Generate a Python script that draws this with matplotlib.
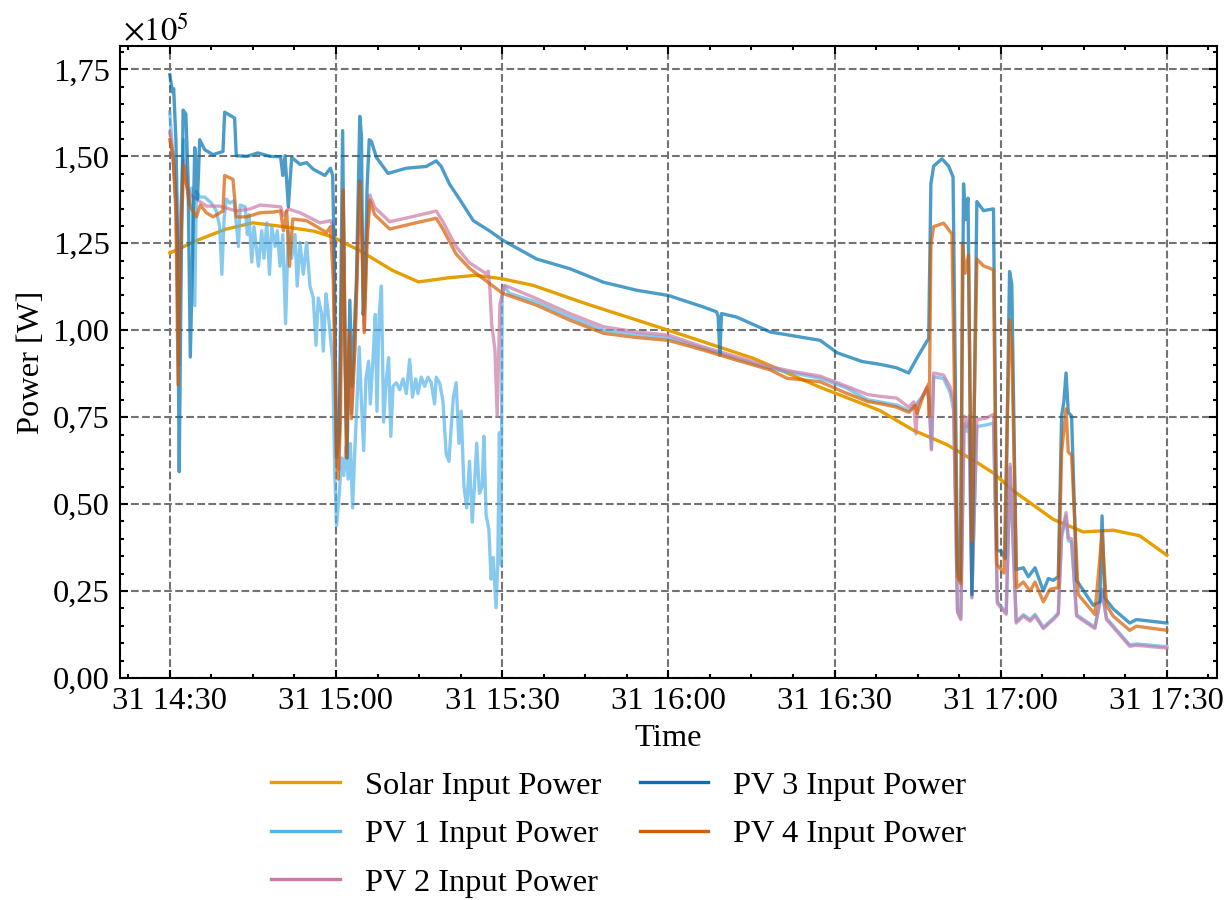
from datetime import datetime, timedelta

import matplotlib
matplotlib.use("Agg")
import matplotlib.pyplot as plt
import matplotlib.dates as mdates
from matplotlib.ticker import AutoMinorLocator, FuncFormatter

# minutes after 14:30 on the 31st, power in kW
solar_t = [0, 5, 10, 15, 21, 26, 29.4, 34.2, 40.2, 44.9, 50.4, 55.2, 60, 65.6, 75.2,
           90, 105.4, 117.4, 128.2, 134.3, 140.3, 145.7, 148.7, 152.3, 159.5, 164.9,
           170.3, 175.1, 180]
solar_kw = [122.2, 125.9, 129.0, 130.9, 129.7, 128.5, 126.8, 123.0, 117.2, 113.9, 115.1,
            115.8, 114.8, 112.9, 107.6, 100.0, 91.9, 83.6, 76.9, 71.2, 67.1, 62.0, 58.9,
            53.8, 45.6, 42.0, 42.5, 40.9, 35.3]

pv1_t = [0, 0.6, 1.1, 1.6, 2.0, 2.5, 3.0, 3.5, 3.9, 4.5, 4.8, 5.4, 6.3, 7.5, 8.4, 9.0,
         9.4, 9.8, 10.2, 10.8, 11.6, 12.4, 12.7, 13.6, 14.0, 14.3, 14.8, 15.2, 16.0, 16.6,
         17.0, 17.5, 18.0, 18.4, 19.0, 19.4, 19.9, 20.4, 20.9, 21.4, 22.0, 22.6, 23.0,
         23.5, 24.1, 24.7, 25.3, 25.9, 26.4, 26.8, 27.4, 27.7, 28.2, 28.6, 29.0, 29.4,
         29.8, 30.1, 30.6, 31.0, 31.4, 31.8, 32.2, 32.6, 33.0, 33.4, 33.8, 34.2, 34.6,
         35.0, 35.4, 35.9, 36.2, 36.7, 37.1, 37.4, 37.8, 38.2, 38.6, 39.1, 39.5, 39.9,
         40.3, 40.9, 41.5, 42.1, 42.7, 43.3, 43.8, 44.4, 44.8, 45.4, 46.0, 46.6, 47.2,
         47.8, 48.1, 48.7, 49.3, 49.9, 50.4, 50.9, 51.2, 51.7, 52.2, 52.6, 53.1, 53.6,
         54.1, 54.6, 55.0, 55.4, 55.9, 56.4, 56.7, 57.1, 57.6, 58.0, 58.4, 58.9, 59.2,
         59.5, 59.8, 60.0, 60.4, 61.3, 66.2, 72.2, 78.3, 84.3, 90.0, 96.3, 102.3, 108.4,
         117.4, 122.0, 126.0, 128.2, 131.2, 133.4, 134.6, 136.7, 137.1, 137.5, 137.9,
         139.7, 140.9, 141.5, 142.2, 142.8, 143.4, 143.9, 144.3, 144.8, 145.7, 147.5,
         148.7, 149.4, 151.0, 151.7, 152.8, 154.1, 155.3, 156.2, 157.7, 159.5, 160.4,
         161.0, 161.8, 162.2, 162.8, 163.7, 167.0, 168.3, 169.1, 173.3, 174.5, 180.0]
pv1_kw = [162.7, 149.1, 138.0, 118.0, 135.0, 154.8, 143.0, 136.0, 140.9, 107.1, 140.0,
          138.3, 138.3, 136.6, 134.3, 129.8, 116.1, 132.0, 137.7, 136.6, 137.2, 124.1,
          136.0, 135.5, 127.5, 133.2, 119.6, 129.8, 118.4, 128.6, 120.7, 130.9, 116.1,
          129.8, 124.1, 128.6, 118.4, 127.5, 101.9, 128.6, 120.7, 127.5, 112.7, 125.2,
          116.1, 125.2, 112.7, 109.3, 95.7, 109.3, 104.8, 94.0, 110.5, 104.8, 98.0, 91.1,
          58.2, 43.8, 53.1, 63.3, 58.2, 66.4, 57.2, 67.4, 48.9, 65.4, 79.8, 95.2, 78.8,
          65.4, 86.0, 91.1, 78.8, 92.1, 104.5, 76.7, 104.5, 112.7, 73.6, 86.0, 92.1, 69.5,
          83.9, 84.9, 82.9, 86.0, 81.8, 91.6, 80.8, 86.0, 81.8, 86.5, 83.9, 86.5, 84.9,
          78.8, 86.5, 84.9, 79.8, 64.4, 62.3, 74.6, 80.8, 84.9, 67.5, 76.7, 55.1, 48.9,
          62.3, 44.8, 55.1, 67.5, 53.1, 55.1, 69.5, 46.9, 42.8, 28.4, 34.6, 20.2, 32.5,
          70.5, 32.5, 110.6, 112.7, 110.6, 108.1, 103.8, 100.0, 98.8, 97.9, 94.8, 91.9,
          89.0, 86.2, 83.5, 80.0, 79.4, 78.5, 76.9, 78.5, 82.5, 79.0, 66.0, 86.6, 86.1,
          82.0, 77.0, 19.5, 17.3, 73.0, 71.0, 73.5, 23.5, 72.3, 72.8, 73.3, 21.9, 18.8,
          60.5, 16.3, 18.2, 16.8, 18.3, 14.6, 17.2, 18.7, 40.5, 46.5, 39.5, 39.0, 18.2,
          14.6, 24.5, 17.2, 9.5, 9.8, 9.0]

pv2_t = [0, 0.6, 1.1, 1.6, 1.9, 2.5, 3.0, 3.7, 4.8, 6.6, 9.0, 12.0, 14.5, 16.3, 20.0,
         20.5, 21.4, 23.5, 27.1, 29.0, 29.5, 30.1, 30.5, 31.3, 31.9, 32.4, 32.8, 33.4,
         34.3, 34.7, 35.1, 35.6, 36.1, 37.0, 39.7, 43.9, 48.1, 49.3, 51.7, 54.1, 57.1,
         57.5, 57.8, 58.1, 58.7, 59.1, 59.6, 60.5, 66.2, 72.2, 78.3, 84.3, 90.0, 96.3,
         102.3, 108.4, 112.6, 117.4, 122.0, 126.0, 128.2, 131.2, 133.4, 134.3, 134.7,
         135.0, 136.7, 137.1, 137.5, 137.9, 139.7, 140.9, 141.5, 142.2, 142.8, 143.4,
         143.9, 144.3, 144.8, 145.7, 147.5, 148.7, 149.4, 151.0, 151.7, 152.8, 154.1,
         155.3, 156.2, 157.7, 159.5, 160.4, 161.0, 161.8, 162.2, 162.8, 163.7, 167.0,
         168.3, 169.1, 173.3, 174.5, 180.0]
pv2_kw = [157.0, 150.2, 136.6, 90.0, 129.8, 149.1, 142.0, 138.9, 137.7, 135.7, 135.7,
          134.3, 134.9, 136.0, 135.5, 133.0, 134.9, 133.8, 130.9, 131.5, 129.8, 65.4, 60.0,
          140.0, 65.0, 100.0, 76.0, 95.0, 143.0, 126.0, 100.0, 127.0, 138.9, 135.3, 131.2,
          132.7, 134.3, 131.2, 124.0, 119.4, 116.3, 117.0, 111.5, 101.9, 94.3, 75.2, 107.6,
          112.9, 109.1, 104.8, 101.0, 99.5, 98.6, 95.2, 92.4, 89.5, 88.1, 86.8, 84.0, 81.5,
          81.0, 80.5, 77.9, 79.4, 70.2, 78.4, 83.6, 80.0, 65.6, 87.7, 87.1, 83.6, 79.4,
          18.9, 16.8, 75.3, 72.3, 75.3, 23.0, 74.3, 74.8, 75.8, 21.4, 18.3, 61.5, 15.8,
          17.8, 16.3, 17.8, 14.2, 16.8, 18.3, 41.4, 47.6, 40.4, 40.0, 17.8, 14.2, 25.5,
          16.8, 9.1, 9.4, 8.6]

pv3_t = [0, 0.5, 0.7, 1.1, 1.3, 1.7, 2.0, 2.4, 2.9, 3.3, 3.7, 4.1, 4.5, 4.7, 5.0, 5.4,
         6.3, 7.8, 9.6, 9.9, 11.1, 11.7, 12.0, 13.9, 15.9, 18.1, 20.0, 20.4, 20.8, 21.4,
         22.0, 23.5, 24.7, 25.9, 28.0, 29.0, 29.4, 29.7, 30.1, 30.6, 31.2, 31.6, 32.0,
         32.5, 32.9, 33.7, 34.3, 34.6, 34.9, 35.2, 35.6, 36.0, 36.4, 37.3, 39.4, 42.7,
         46.3, 48.1, 49.0, 50.5, 52.3, 54.8, 57.7, 60.2, 66.2, 72.2, 78.3, 84.3, 90.0,
         96.3, 98.7, 99.0, 99.3, 99.6, 102.3, 108.4, 117.4, 120.5, 125.0, 128.2, 131.2,
         133.4, 134.8, 136.7, 137.0, 137.4, 137.9, 139.4, 140.6, 141.4, 142.2, 142.7,
         143.3, 143.6, 144.1, 144.8, 145.7, 146.9, 148.7, 149.3, 150.2, 150.8, 151.6,
         152.0, 152.8, 154.1, 155.0, 156.2, 157.7, 158.6, 159.5, 160.4, 161.0, 161.4,
         161.8, 162.2, 162.8, 163.7, 166.7, 167.9, 168.3, 168.8, 170.3, 173.3, 174.5,
         180.0]
pv3_kw = [173.5, 168.4, 169.5, 154.8, 137.7, 59.3, 109.3, 163.3, 162.2, 143.4, 92.3,
          120.7, 152.5, 148.0, 137.7, 154.8, 151.9, 150.5, 151.4, 162.7, 161.6, 161.0,
          150.2, 150.0, 151.0, 150.0, 149.9, 144.5, 150.2, 135.5, 149.7, 147.7, 148.2,
          146.3, 144.5, 146.6, 144.5, 120.0, 63.3, 70.0, 157.4, 94.2, 63.3, 108.6, 83.9,
          114.7, 161.5, 155.9, 104.5, 110.0, 140.4, 154.8, 154.3, 149.7, 145.1, 146.6,
          147.1, 148.7, 147.1, 142.0, 137.7, 131.5, 128.6, 125.8, 120.5, 117.7, 113.8,
          111.5, 110.0, 106.7, 105.3, 104.0, 92.8, 104.8, 103.8, 99.5, 97.1, 93.5, 91.0,
          90.2, 89.2, 87.7, 91.8, 96.9, 97.5, 142.1, 147.2, 149.3, 147.2, 144.1, 31.2,
          28.1, 142.1, 131.8, 138.0, 24.0, 137.0, 134.4, 134.9, 36.8, 36.3, 34.3, 116.9,
          113.3, 31.2, 31.7, 29.1, 31.7, 25.0, 28.6, 28.1, 29.1, 75.3, 79.4, 87.7, 76.4,
          75.3, 28.1, 20.9, 21.9, 46.6, 23.0, 19.9, 15.8, 16.8, 15.8]

pv4_t = [0, 0.6, 1.1, 1.5, 1.9, 2.5, 3.0, 3.7, 4.8, 5.5, 6.6, 7.8, 9.6, 9.9, 11.4, 12.0,
         13.9, 16.3, 18.7, 20.0, 20.5, 21.1, 21.6, 22.2, 24.7, 28.3, 29.0, 29.5, 30.1,
         30.4, 30.8, 31.3, 31.9, 32.4, 32.8, 33.4, 34.3, 34.7, 35.1, 35.6, 36.1, 37.0,
         39.7, 43.9, 48.1, 49.3, 51.7, 54.1, 57.1, 60.1, 66.2, 72.2, 78.3, 84.3, 90.0,
         96.3, 102.3, 108.4, 111.4, 117.4, 122.0, 126.0, 128.2, 131.2, 133.4, 134.6,
         134.9, 136.1, 137.0, 137.1, 137.4, 137.9, 139.7, 141.2, 142.2, 142.8, 143.1,
         143.6, 144.2, 144.8, 145.7, 146.9, 148.7, 149.3, 150.6, 151.6, 152.0, 152.9,
         154.1, 155.3, 156.2, 157.7, 158.9, 160.4, 161.0, 161.8, 162.2, 162.8, 164.0,
         167.0, 168.3, 169.1, 170.3, 173.3, 174.5, 180.0]
pv4_kw = [154.8, 149.7, 134.3, 84.3, 120.7, 147.4, 142.3, 135.5, 132.6, 136.0, 133.8,
          132.6, 134.3, 144.5, 143.4, 132.6, 132.6, 133.8, 134.0, 134.3, 128.6, 134.3,
          118.4, 132.0, 131.5, 128.1, 129.8, 114.7, 63.3, 57.2, 73.6, 140.4, 63.3, 99.3,
          74.6, 94.2, 142.5, 125.0, 99.3, 125.0, 137.4, 133.2, 129.1, 130.7, 132.2, 129.1,
          121.9, 117.8, 114.2, 110.6, 107.2, 102.9, 99.1, 97.9, 97.1, 94.3, 91.4, 88.6,
          86.2, 85.2, 82.0, 79.5, 78.9, 77.9, 76.4, 78.4, 76.0, 81.5, 84.6, 75.3, 124.6,
          129.8, 130.8, 127.7, 29.1, 27.1, 124.6, 116.4, 121.6, 39.4, 120.5, 118.5, 117.4,
          32.7, 30.2, 103.1, 95.0, 26.0, 27.6, 25.0, 27.6, 21.9, 25.5, 26.0, 65.0, 77.4,
          65.0, 64.0, 24.0, 18.3, 41.5, 20.9, 17.8, 13.7, 14.9, 13.7]

series = [
    ("Solar Input Power", solar_t, solar_kw, "#E69F00", 1.0),
    ("PV 1 Input Power", pv1_t, pv1_kw, "#56B4E9", 0.7),
    ("PV 2 Input Power", pv2_t, pv2_kw, "#CC79A7", 0.7),
    ("PV 3 Input Power", pv3_t, pv3_kw, "#0072B2", 0.7),
    ("PV 4 Input Power", pv4_t, pv4_kw, "#D55E00", 0.7),
]

start = datetime(2023, 5, 31, 14, 30)

plt.rcParams["font.family"] = ["Liberation Serif", "DejaVu Serif"]
plt.rcParams["mathtext.fontset"] = "stix"
plt.rcParams["font.size"] = 7.8

fig = plt.figure(figsize=(1229 / 300, 3), dpi=300)
ax = fig.add_axes([0.0976, 0.2467, 0.8924, 0.7022])

for label, t, kw, color, alpha in series:
    times = [start + timedelta(minutes=m) for m in t]
    watts = [v * 1000 for v in kw]
    ax.plot(times, watts, color=color, alpha=alpha, lw=0.8, label=label)

ax.set_ylim(bottom=0)
ax.xaxis.set_major_locator(mdates.MinuteLocator(byminute=[0, 30]))
ax.xaxis.set_major_formatter(mdates.DateFormatter("%d %H:%M"))
ax.xaxis.set_minor_locator(AutoMinorLocator(4))
ax.yaxis.set_major_formatter(FuncFormatter(lambda v, p: f"{v / 1e5:.2f}".replace(".", ",")))
ax.yaxis.set_minor_locator(AutoMinorLocator(5))
ax.text(0.003, 1.009, r"$\times10^{5}$", transform=ax.transAxes, ha="left", va="baseline")

ax.tick_params(which="both", direction="in", top=True, right=True, width=0.5)
ax.tick_params(which="major", length=2)
ax.tick_params(which="minor", length=1)
ax.tick_params(axis="y", which="both", pad=2.5)
ax.tick_params(axis="x", which="both", pad=2.2)
for s in ax.spines.values():
    s.set_linewidth(0.5)
ax.grid(True, which="major", ls="--", lw=0.5, color="0.45")

ax.set_xlabel("Time", labelpad=1.8)
ax.set_ylabel("Power [W]", labelpad=1.5)

leg = fig.legend(loc="upper center", bbox_to_anchor=(0.5035, 0.176), ncol=2, frameon=False,
                 handlelength=2.1, handletextpad=0.77, columnspacing=1.2, labelspacing=0.58)
for h in leg.legend_handles:
    h.set_alpha(1)

fig.savefig("out.png", dpi=300)
